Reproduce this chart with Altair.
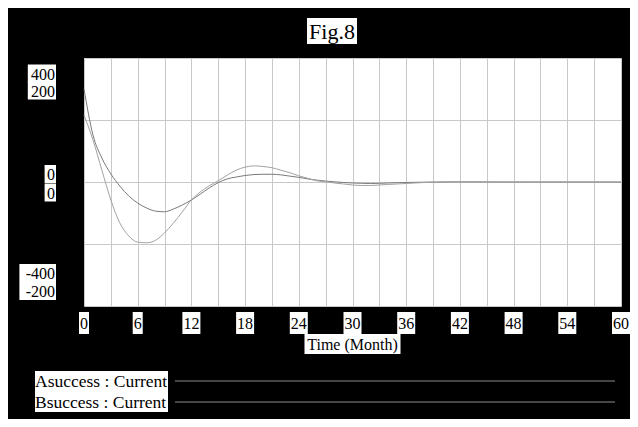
import altair as alt
import pandas as pd

# ---------------- data ----------------
months = list(range(0, 61))
asuccess = [300, 152, 77, 26, -13, -45, -68, -84, -94, -96,
            -87, -74, -58, -39, -19, -2, 10, 16, 21, 24,
            25, 25, 23, 19, 15, 10, 6, 3, 0.6, -1.6,
            -3.2, -4.2, -4.8, -4.2, -3.2, -2.3, -1.6, -1.0, -0.6, -0.3,
            0, 0.3, 0.4, 0.4, 0.3, 0.2, 0.1, 0, 0, 0,
            0, 0, 0, 0, 0, 0, 0, 0, 0, 0, 0]
bsuccess = [108, 68, 19, -29, -66, -87, -97, -98, -94, -82,
            -66, -48, -29, -16, -6, 2, 11, 19, 24, 26,
            25, 23, 19, 15, 10, 6, 2, 0.3, -1.6, -3.2,
            -4.8, -5.6, -5.6, -4.8, -4.0, -3.2, -2.4, -1.6, -0.8, -0.3,
            0, 0.2, 0.3, 0.3, 0.2, 0.1, 0, 0, 0, 0,
            0, 0, 0, 0, 0, 0, 0, 0, 0, 0, 0]
x_tick_values = [0, 6, 12, 18, 24, 30, 36, 42, 48, 54, 60]
a_label_values = [400, 0, -400]
b_label_values = [200, 0, -200]
series_names = ["Asuccess : Current", "Bsuccess : Current"]
title_text = "Fig.8"
x_title = "Time (Month)"

# ---------------- styles ----------------
FONT = "Liberation Serif"
GRID = "#c8c8c8"
COL_A = "#7a7a7a"
COL_B = "#a2a2a2"
W, H = 537, 248
PADL, PADT, PADR = 76, 50, 9
PADB = 411 - PADT - H

x_scale = alt.Scale(domain=[0, 60], nice=False, zero=False)
ya_scale = alt.Scale(domain=[-400, 400], nice=False)
yb_scale = alt.Scale(domain=[-200, 200], nice=False)
x_axis = alt.Axis(values=list(range(0, 61, 3)), grid=True, gridColor=GRID,
                  gridWidth=1, labels=False, ticks=False, domain=False, title=None)
ya_axis = alt.Axis(values=[-400, -200, 0, 200, 400], grid=True, gridColor=GRID,
                   gridWidth=1, labels=False, ticks=False, domain=False, title=None)

df = pd.DataFrame({"t": months, "A": asuccess, "B": bsuccess})
one = pd.DataFrame({"k": [0]})

line_a = alt.Chart(df).mark_line(color=COL_A, strokeWidth=1, interpolate="monotone").encode(
    x=alt.X("t:Q", scale=x_scale, axis=x_axis),
    y=alt.Y("A:Q", scale=ya_scale, axis=ya_axis),
)
line_b = alt.Chart(df).mark_line(color=COL_B, strokeWidth=1, interpolate="monotone").encode(
    x=alt.X("t:Q", scale=x_scale, axis=x_axis),
    y=alt.Y("B:Q", scale=yb_scale, axis=None),
)


def ylabel(text, value, scale, axis, dy, box_h=18):
    """White box + black text to the left of the plot, placed on a y scale."""
    xr = -29  # right edge of label, px from plot's left edge
    hw = 4.2 * len(text) + 1.5
    ydef = alt.Y(datum=value, type="quantitative", scale=scale, axis=axis)
    rect = alt.Chart(one).mark_rect(
        color="white", yOffset=dy - box_h / 2, y2Offset=dy + box_h / 2
    ).encode(
        x=alt.value(xr - 2 * hw + 1), x2=alt.value(xr + 1),
        y=ydef, y2=alt.Y2(datum=value),
    )
    txt = alt.Chart(one).mark_text(
        text=text, font=FONT, fontSize=16, color="black",
        align="right", baseline="middle", dy=dy + 1,
    ).encode(x=alt.value(xr), y=ydef)
    return [rect, txt]


a_dy = [15.5, -8, -33]
b_dy = [32.5, 10.5, -15]
a_labels = []
for v, d in zip(a_label_values, a_dy):
    a_labels += ylabel(str(v), v, ya_scale, ya_axis, d)
b_labels = []
for v, d in zip(b_label_values, b_dy):
    b_labels += ylabel(str(v), v, yb_scale, None, d)

group_a = alt.layer(line_a, *a_labels)
group_b = alt.layer(line_b, *b_labels)

# x tick labels
ticks_df = pd.DataFrame({"v": x_tick_values, "s": [str(v) for v in x_tick_values]})
ticks_df["n"] = ticks_df["s"].str.len()
tick_y = H + 17
tick_layers = []
for n, hw in [(1, 5), (2, 9)]:
    sub = alt.Chart(ticks_df).transform_filter(alt.datum.n == n)
    tick_layers.append(
        sub.mark_rect(color="white", xOffset=-hw, x2Offset=hw).encode(
            x=alt.X("v:Q", scale=x_scale, axis=x_axis), x2=alt.X2("v"),
            y=alt.value(tick_y - 11), y2=alt.value(tick_y + 11),
        )
    )
tick_layers.append(
    alt.Chart(ticks_df).mark_text(font=FONT, fontSize=16, color="black",
                                  baseline="middle", dy=1).encode(
        x=alt.X("v:Q", scale=x_scale, axis=x_axis), y=alt.value(tick_y), text="s:N"
    )
)

# x title
xt_cx, xt_cy = W / 2, H + 38
x_title_layers = [
    alt.Chart(one).mark_rect(color="white").encode(
        x=alt.value(xt_cx - 48), x2=alt.value(xt_cx + 48),
        y=alt.value(xt_cy - 10), y2=alt.value(xt_cy + 10)),
    alt.Chart(one).mark_text(text=x_title, font=FONT, fontSize=16, color="black",
                             baseline="middle", dy=1).encode(
        x=alt.value(xt_cx), y=alt.value(xt_cy)),
]

# chart title (Fig.8)
t_cx, t_cy = 324 - PADL, 23 - PADT
title_layers = [
    alt.Chart(one).mark_rect(color="white").encode(
        x=alt.value(t_cx - 25), x2=alt.value(t_cx + 25),
        y=alt.value(t_cy - 13), y2=alt.value(t_cy + 13)),
    alt.Chart(one).mark_text(text=title_text, font=FONT, fontSize=22, color="black",
                             baseline="middle", dy=1).encode(
        x=alt.value(t_cx), y=alt.value(t_cy)),
]

# legend
leg_layers = []
leg_x0 = 27 - PADL
leg_rows = [373 - PADT, 394 - PADT]
leg_layers.append(
    alt.Chart(one).mark_rect(color="white").encode(
        x=alt.value(leg_x0), x2=alt.value(160 - PADL),
        y=alt.value(leg_rows[0] - 10), y2=alt.value(leg_rows[1] + 10))
)
for name, yy in zip(series_names, leg_rows):
    leg_layers.append(
        alt.Chart(one).mark_text(text=name, font=FONT, fontSize=17.5, color="black",
                                 align="left", baseline="middle", dy=1).encode(
            x=alt.value(leg_x0), y=alt.value(yy))
    )
    leg_layers.append(
        alt.Chart(one).mark_rule(color="#8c8c8c", strokeWidth=1).encode(
            x=alt.value(167 - PADL), x2=alt.value(607 - PADL), y=alt.value(yy))
    )

chart = alt.layer(
    group_a, group_b, *tick_layers, *x_title_layers, *title_layers, *leg_layers
).resolve_scale(y="independent").properties(
    width=W, height=H,
    autosize=alt.AutoSizeParams(type="none"),
    padding={"left": PADL, "top": PADT, "right": PADR, "bottom": PADB},
    background="black",
).configure_view(fill="white", stroke=None)

chart.save("out.html", embed_options={"renderer": "svg", "actions": False})
